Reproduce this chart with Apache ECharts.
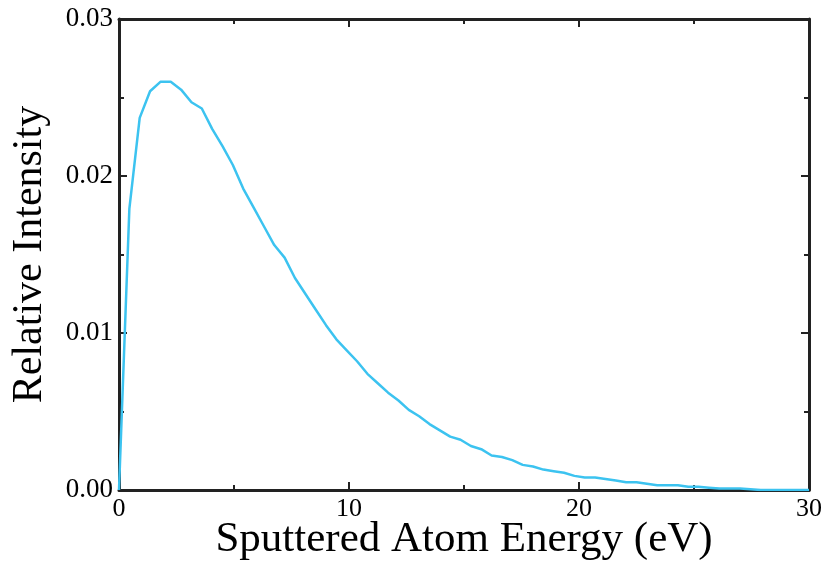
<!DOCTYPE html>
<html>
<head>
<meta charset="utf-8">
<script src="https://cdn.jsdelivr.net/npm/echarts@6/dist/echarts.min.js"></script>
<style>
  html, body { margin: 0; padding: 0; background: #fff; }
  #chart { width: 828px; height: 563px; }
</style>
</head>
<body>
<div id="chart"></div>
<script>
// energy (eV) and relative intensity
const energy = [
  0, 0.45, 0.9, 1.35, 1.8, 2.25, 2.7, 3.15, 3.6, 4.05, 4.5, 4.95,
  5.4, 5.85, 6.3, 6.75, 7.2, 7.65, 8.1, 8.55, 9.0, 9.45, 9.9, 10.35,
  10.8, 11.25, 11.7, 12.15, 12.6, 13.05, 13.5, 13.95, 14.4, 14.85, 15.3, 15.75,
  16.2, 16.65, 17.1, 17.55, 18.0, 18.45, 18.9, 19.35, 19.8, 20.25, 20.7, 21.15,
  21.6, 22.05, 22.5, 22.95, 23.4, 23.85, 24.3, 24.75, 25.2, 25.65, 26.1, 26.55,
  27.0, 27.45, 27.9, 28.35, 28.8, 29.25, 29.7, 30
];
const intensity = [
  0, 0.0179, 0.0237, 0.0254, 0.0260, 0.0260, 0.0255, 0.0247, 0.0243, 0.0230, 0.0219, 0.0207,
  0.0192, 0.0180, 0.0168, 0.0156, 0.0148, 0.0135, 0.0125, 0.0115, 0.0105, 0.0096, 0.0089, 0.0082,
  0.0074, 0.0068, 0.0062, 0.0057, 0.0051, 0.0047, 0.0042, 0.0038, 0.0034, 0.0032, 0.0028, 0.0026,
  0.0022, 0.0021, 0.0019, 0.0016, 0.0015, 0.0013, 0.0012, 0.0011, 0.0009, 0.0008, 0.0008, 0.0007,
  0.0006, 0.0005, 0.0005, 0.0004, 0.0003, 0.0003, 0.0003, 0.0002, 0.0002, 0.00015, 0.0001, 0.0001,
  0.0001, 0.00005, 0, 0, 0, 0, 0, 0
];
const xTicks = { min: 0, max: 30, interval: 10 };
const yTicks = { min: 0, max: 0.03, interval: 0.01 };

const serif = '"Liberation Serif", "DejaVu Serif", serif';
const axisColor = '#222';

const chart = echarts.init(document.getElementById('chart'));

function frameAxis(extra) {
  return Object.assign({
    type: 'value',
    axisLine: { show: true, onZero: false, lineStyle: { color: axisColor, width: 3 } },
    axisTick: { show: true, inside: true, length: 8, lineStyle: { color: axisColor, width: 2 } },
    minorTick: { show: true, splitNumber: 2, length: 5, lineStyle: { color: axisColor, width: 2 } },
    splitLine: { show: false },
    minorSplitLine: { show: false }
  }, extra);
}

const data = energy.map((e, i) => [e, intensity[i]]);

chart.setOption({
  animation: false,
  backgroundColor: '#fff',
  grid: { left: 119, right: 19, top: 19, bottom: 73, containLabel: false, outerBoundsMode: 'none' },
  xAxis: [
    frameAxis({
      position: 'bottom',
      min: xTicks.min, max: xTicks.max, interval: xTicks.interval,
      name: 'Sputtered Atom Energy (eV)',
      nameLocation: 'middle',
      nameGap: 28,
      nameMoveOverlap: false,
      nameTextStyle: { fontFamily: serif, fontSize: 43, color: '#000', verticalAlign: 'top' },
      axisLabel: { fontFamily: serif, fontSize: 26, color: '#000', margin: 6 }
    }),
    frameAxis({
      position: 'top',
      min: xTicks.min, max: xTicks.max, interval: xTicks.interval,
      axisLabel: { show: false }
    })
  ],
  yAxis: [
    frameAxis({
      position: 'left',
      min: yTicks.min, max: yTicks.max, interval: yTicks.interval,
      name: 'Relative Intensity',
      nameLocation: 'middle',
      nameGap: 68,
      nameMoveOverlap: false,
      nameTextStyle: { fontFamily: serif, fontSize: 42, color: '#000' },
      axisLabel: {
        fontFamily: serif, fontSize: 27, color: '#000', margin: 6,
        formatter: v => v.toFixed(2)
      }
    }),
    frameAxis({
      position: 'right',
      min: yTicks.min, max: yTicks.max, interval: yTicks.interval,
      axisLabel: { show: false }
    })
  ],
  series: [{
    type: 'line',
    data: data,
    showSymbol: false,
    smooth: false,
    lineStyle: { color: '#3cc3f0', width: 2.5 },
    clip: true
  }]
});
</script>
</body>
</html>
